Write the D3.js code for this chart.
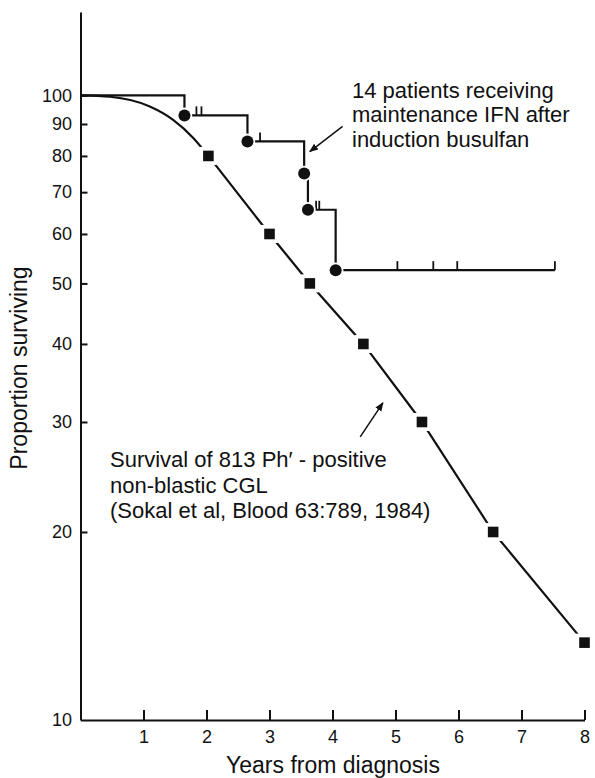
<!DOCTYPE html>
<html>
<head>
<meta charset="utf-8" />
<title>Survival with maintenance IFN</title>
<script type="text/javascript" src="https://d3js.org/d3.v7.min.js"></script>
<style type="text/css">
    body { margin: 0; background: #fff; }
    svg text { font-family: "Liberation Sans", Arial, sans-serif; fill: #111; }
</style>
</head>
<body>
<svg width="595" height="778"></svg>
<script>
    var w = 595;
    var h = 778;

    // axis ticks
    var yearTicks = [1, 2, 3, 4, 5, 6, 7, 8];
    var percentTicks = [10, 20, 30, 40, 50, 60, 70, 80, 90, 100];

    // Sokal et al survival curve (smooth early part, then the squares)
    var sokalCurveYears  = [0, 0.47, 1.1, 1.47, 1.79, 2.03];
    var sokalCurveValues = [100, 99.5, 96.0, 91.4, 85.5, 80];
    var sokalSquareYears  = [2.03, 3.0, 3.64, 4.49, 5.42, 6.55, 8.0];
    var sokalSquareValues = [80, 60, 50, 40, 30, 20, 13.3];

    // 14 patients on IFN: deaths (filled circles) and censored patients (ticks)
    var ifnDeathYears  = [1.65, 2.65, 3.55, 3.61, 4.05];
    var ifnDeathValues = [92.9, 84.4, 75.0, 65.6, 52.5];
    var ifnCensorYears = [1.84, 1.92, 2.85, 3.74, 3.79, 5.03, 5.6, 5.98, 7.53];

    var svg = d3.select("svg")
        .attr("width", w)
        .attr("height", h);

    var x = d3.scaleLinear().domain([0, 8]).range([80.5, 584.5]);
    var y = d3.scaleLog().domain([10, 136]).range([720, 12]);

    // x axis, ticks pointing up into the plot
    var xAxis = svg.append("g")
        .attr("transform", "translate(0,720)")
        .call(d3.axisBottom(x).tickValues(yearTicks).tickSizeInner(-10).tickSizeOuter(0).tickPadding(10.5));
    // y axis, ticks pointing right into the plot
    var yAxis = svg.append("g")
        .attr("transform", "translate(80.5,0)")
        .call(d3.axisLeft(y).tickValues(percentTicks).tickFormat(d3.format("d"))
            .tickSizeInner(-7).tickSizeOuter(0).tickPadding(8.5));

    [xAxis, yAxis].forEach(function(a) {
        a.attr("font-family", null).attr("font-size", null);
        a.selectAll("path, line").attr("stroke", "#111").attr("stroke-width", 2);
        a.selectAll("text").style("font-size", "18px").attr("fill", "#111");
    });
    yAxis.selectAll(".tick line").filter(function(d) { return d === 10; }).remove();

    // axis titles
    svg.append("text")
        .attr("x", 333)
        .attr("y", 773)
        .attr("text-anchor", "middle")
        .style("font-size", "23px")
        .text("Years from diagnosis");
    svg.append("text")
        .attr("transform", "translate(27,368) rotate(-90)")
        .attr("text-anchor", "middle")
        .style("font-size", "23px")
        .text("Proportion surviving");

    // Sokal curve
    var curvePts = sokalCurveYears.map(function(d, i) { return [d, sokalCurveValues[i]]; });
    var squarePts = sokalSquareYears.map(function(d, i) { return [d, sokalSquareValues[i]]; });

    var lineSmooth = d3.line()
        .x(function(d) { return x(d[0]); })
        .y(function(d) { return y(d[1]); })
        .curve(d3.curveMonotoneX);
    var lineStraight = d3.line()
        .x(function(d) { return x(d[0]); })
        .y(function(d) { return y(d[1]); });

    svg.append("path")
        .attr("d", lineSmooth(curvePts))
        .attr("fill", "none").attr("stroke", "#111").attr("stroke-width", 2.2);
    svg.append("path")
        .attr("d", lineStraight(squarePts))
        .attr("fill", "none").attr("stroke", "#111").attr("stroke-width", 2.2);

    // white halo then square marker
    var sq = svg.append("g").selectAll("g")
        .data(squarePts)
        .enter()
        .append("g")
        .attr("transform", function(d) { return "translate(" + x(d[0]) + "," + y(d[1]) + ")"; });
    sq.append("rect").attr("x", -9).attr("y", -9).attr("width", 18).attr("height", 18).attr("fill", "#fff");
    sq.append("rect").attr("x", -5.3).attr("y", -5.3).attr("width", 10.6).attr("height", 10.6).attr("fill", "#111");

    // IFN Kaplan-Meier step curve
    var lastCensor = d3.max(ifnCensorYears);
    var steps = [[0, 100]];
    var level = 100;
    ifnDeathYears.forEach(function(t, i) {
        steps.push([t, level]);
        level = ifnDeathValues[i];
        steps.push([t, level]);
    });
    steps.push([lastCensor, level]);

    svg.append("path")
        .attr("d", lineStraight(steps))
        .attr("fill", "none").attr("stroke", "#111").attr("stroke-width", 2.2);

    // survival level at a given time (for placing censor ticks)
    function ifnLevel(t) {
        var v = 100;
        ifnDeathYears.forEach(function(d, i) { if (d <= t) v = ifnDeathValues[i]; });
        return v;
    }

    svg.append("g").selectAll("line")
        .data(ifnCensorYears)
        .enter()
        .append("line")
        .attr("x1", function(d) { return x(d); })
        .attr("x2", function(d) { return x(d); })
        .attr("y1", function(d) { return y(ifnLevel(d)); })
        .attr("y2", function(d) { return y(ifnLevel(d)) - 9; })
        .attr("stroke", "#111").attr("stroke-width", 1.8);

    var dots = svg.append("g").selectAll("g")
        .data(ifnDeathYears)
        .enter()
        .append("g")
        .attr("transform", function(d, i) { return "translate(" + x(d) + "," + y(ifnDeathValues[i]) + ")"; });
    dots.append("circle").attr("r", 7.8).attr("fill", "#fff");
    dots.append("circle").attr("r", 6).attr("fill", "#111");

    // annotations
    var ifnLabel = ["14 patients receiving", "maintenance IFN after", "induction busulfan"];
    var ifnLabelY = [97.5, 122, 146.5];
    svg.append("g").selectAll("text")
        .data(ifnLabel)
        .enter()
        .append("text")
        .attr("x", 352)
        .attr("y", function(d, i) { return ifnLabelY[i]; })
        .style("font-size", "22px")
        .text(function(d) { return d; });

    var sokalLabel = ["Survival of 813 Ph\u2032 - positive", "non-blastic CGL", "(Sokal et al, Blood 63:789, 1984)"];
    var sokalLabelY = [467, 492.5, 518];
    svg.append("g").selectAll("text")
        .data(sokalLabel)
        .enter()
        .append("text")
        .attr("x", 110)
        .attr("y", function(d, i) { return sokalLabelY[i]; })
        .style("font-size", "22px")
        .text(function(d) { return d; });

    // arrows, given in data space: [tail, tip]
    var arrows = [
        [[4.16, 89.2], [3.64, 81.3]],
        [[4.44, 28.4], [4.80, 32.2]]
    ];
    svg.append("defs").append("marker")
        .attr("id", "head")
        .attr("viewBox", "0 0 10 10")
        .attr("refX", 9).attr("refY", 5)
        .attr("markerWidth", 9).attr("markerHeight", 9)
        .attr("markerUnits", "userSpaceOnUse")
        .attr("orient", "auto")
        .append("path")
        .attr("d", "M0,1 L10,5 L0,9 Z")
        .attr("fill", "#111");

    svg.append("g").selectAll("line")
        .data(arrows)
        .enter()
        .append("line")
        .attr("x1", function(d) { return x(d[0][0]); })
        .attr("y1", function(d) { return y(d[0][1]); })
        .attr("x2", function(d) { return x(d[1][0]); })
        .attr("y2", function(d) { return y(d[1][1]); })
        .attr("stroke", "#111").attr("stroke-width", 1.5)
        .attr("marker-end", "url(#head)");
</script>
</body>
</html>
